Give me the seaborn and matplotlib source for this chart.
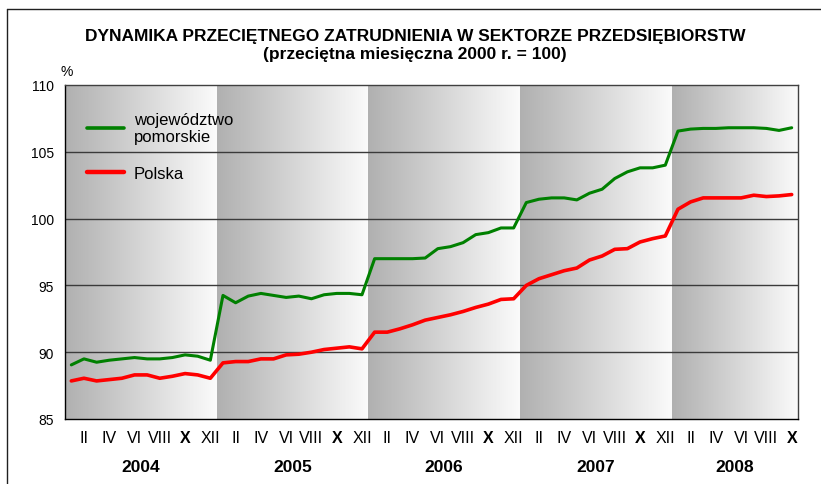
import matplotlib
matplotlib.use("Agg")
import matplotlib.pyplot as plt
from matplotlib.colors import LinearSegmentedColormap
from matplotlib.lines import Line2D
import matplotlib.transforms as mtransforms
import numpy as np
import pandas as pd
import seaborn as sns

years = ["2004", "2005", "2006", "2007", "2008"]
roman = ["I", "II", "III", "IV", "V", "VI", "VII", "VIII", "IX", "X", "XI", "XII"]
n_months = 58  # I 2004 .. X 2008

pomorskie = [
    89.05, 89.5, 89.25, 89.4, 89.5, 89.6, 89.5, 89.5, 89.6, 89.8, 89.7, 89.4,
    94.25, 93.7, 94.2, 94.4, 94.25, 94.1, 94.2, 94.0, 94.3, 94.4, 94.4, 94.3,
    97.0, 97.0, 97.0, 97.0, 97.05, 97.75, 97.9, 98.2, 98.8, 98.95, 99.3, 99.3,
    101.2, 101.45, 101.55, 101.55, 101.4, 101.9, 102.2, 103.0, 103.5, 103.8, 103.8, 104.0,
    106.55, 106.7, 106.75, 106.75, 106.8, 106.8, 106.8, 106.75, 106.6, 106.8,
]
polska = [
    87.85, 88.05, 87.85, 87.95, 88.05, 88.3, 88.3, 88.05, 88.2, 88.4, 88.3, 88.05,
    89.2, 89.3, 89.3, 89.5, 89.5, 89.8, 89.85, 90.0, 90.2, 90.3, 90.4, 90.25,
    91.5, 91.5, 91.75, 92.05, 92.4, 92.6, 92.8, 93.05, 93.35, 93.6, 93.95, 94.0,
    95.0, 95.5, 95.8, 96.1, 96.3, 96.9, 97.2, 97.7, 97.75, 98.25, 98.5, 98.7,
    100.7, 101.25, 101.55, 101.55, 101.55, 101.55, 101.75, 101.65, 101.7, 101.8,
]

sns.set_style("white")
narrow = ["Liberation Sans Narrow", "Liberation Sans", "DejaVu Sans"]
regular = ["Liberation Sans", "DejaVu Sans"]
plt.rcParams["font.family"] = regular
plt.rcParams["text.color"] = "black"
plt.rcParams["xtick.color"] = "black"
plt.rcParams["ytick.color"] = "black"
plt.rcParams["xtick.labelcolor"] = "black"
plt.rcParams["ytick.labelcolor"] = "black"

df = pd.DataFrame({
    "month": np.arange(n_months),
    "województwo\npomorskie": pomorskie,
    "Polska": polska,
}).melt(id_vars="month", var_name="series", value_name="value")

fig = plt.figure(figsize=(8.21, 4.85), dpi=100)
ax = fig.add_axes([65 / 821, 1 - 420 / 485, 733 / 821, 334 / 485])

# year bands with horizontal grey gradient
cmap = LinearSegmentedColormap.from_list("band", ["#b0b0b0", "#fbfbfb"])
grad = np.linspace(0, 1, 256).reshape(1, -1)
for k in range(len(years)):
    x0 = 12 * k - 0.5
    x1 = min(12 * k + 11.5, n_months - 0.5)
    ax.imshow(grad, cmap=cmap, extent=[x0, x1, 85, 110], aspect="auto",
              interpolation="bilinear", zorder=0)

for yv in [90, 95, 100, 105]:
    ax.axhline(yv, color="#3a3a3a", lw=1.0, zorder=1)

sns.lineplot(data=df, x="month", y="value", hue="series",
             palette={"województwo\npomorskie": "#008000", "Polska": "#ff0000"},
             size="series", sizes={"województwo\npomorskie": 2.2, "Polska": 2.6},
             legend=False, ax=ax, zorder=3)

ax.set_xlim(-0.5, n_months - 0.5)
ax.set_ylim(85, 110)
ax.set_xlabel("")
ax.set_ylabel("")

ax.set_yticks([85, 90, 95, 100, 105, 110])
ax.tick_params(axis="y", direction="out", length=5, width=1, color="black",
               labelsize=10, pad=3)

# month boundaries as major ticks, labels on minor ticks
ax.set_xticks(np.arange(0, n_months + 1) - 0.5)
ax.set_xticklabels([])
lab_pos = [m for m in range(n_months) if m % 2 == 1]
ax.set_xticks(lab_pos, minor=True)
ax.set_xticklabels([roman[m % 12] for m in lab_pos], minor=True)
ax.tick_params(axis="x", which="major", direction="out", length=5, width=1, color="black")
ax.tick_params(axis="x", which="minor", length=0, pad=8, labelsize=11.5)
for t in ax.get_xticklabels(minor=True):
    t.set_family(narrow)
    if t.get_text() == "X":
        t.set_fontweight("bold")

for s in ax.spines.values():
    s.set_visible(True)
    s.set_color("black")
    s.set_linewidth(1.0)
ax.spines["top"].set_color("#404040")
ax.spines["right"].set_color("#404040")

trans = mtransforms.blended_transform_factory(ax.transData, ax.transAxes)
for k, yr in enumerate(years):
    x0 = 12 * k - 0.5
    x1 = min(12 * k + 11.5, n_months - 0.5)
    ax.text((x0 + x1) / 2, -0.141, yr, transform=trans, ha="center", va="center",
            fontsize=12.5, fontweight="bold", family=narrow)

handles = [Line2D([], [], color="#008000", lw=2.6),
           Line2D([], [], color="#ff0000", lw=3.2)]
leg = ax.legend(handles, ["województwo\npomorskie", "Polska"], loc="upper left",
                bbox_to_anchor=(0.01, 0.965), frameon=False, fontsize=12,
                handlelength=2.2, handletextpad=0.6, labelspacing=1.3)
for t in leg.get_texts():
    t.set_color("black")

fig.text(415 / 821, 1 - 37 / 485, "DYNAMIKA PRZECIĘTNEGO ZATRUDNIENIA W SEKTORZE PRZEDSIĘBIORSTW",
         ha="center", va="center", fontsize=12.5, fontweight="bold", family=narrow)
fig.text(415 / 821, 1 - 55 / 485, "(przeciętna miesięczna 2000 r. = 100)",
         ha="center", va="center", fontsize=12.5, fontweight="bold", family=narrow)
fig.text(67 / 821, 1 - 72 / 485, "%", ha="center", va="center", fontsize=10)

# outer frame (left and top edges)
fig.add_artist(Line2D([7 / 821, 7 / 821], [0, 1 - 10 / 485], color="#202020", lw=1.0,
                      transform=fig.transFigure))
fig.add_artist(Line2D([7 / 821, 1], [1 - 10 / 485, 1 - 10 / 485], color="#202020", lw=1.0,
                      transform=fig.transFigure))

fig.savefig("out.png", dpi=100)
